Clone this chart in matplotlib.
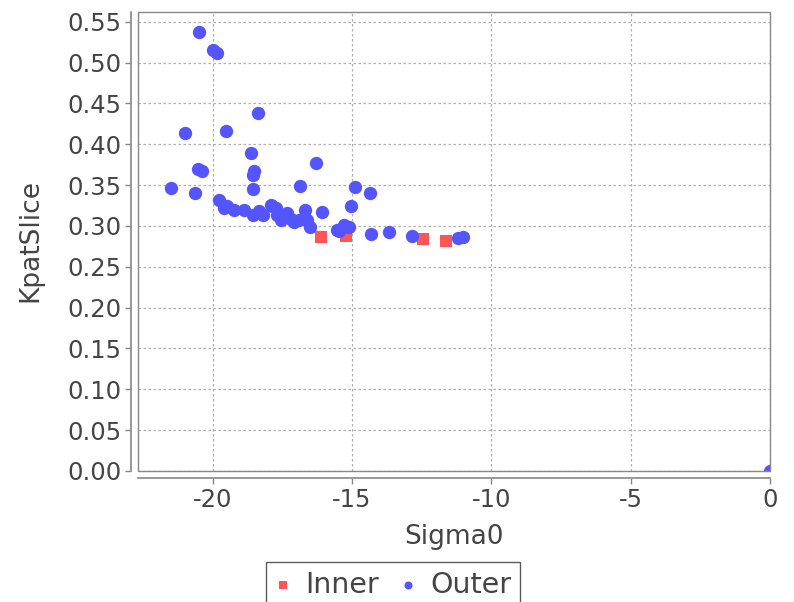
import matplotlib
matplotlib.use("Agg")
import matplotlib.pyplot as plt
from matplotlib.patches import Rectangle

# Data
inner_x = [-16.11, -15.21, -12.47, -11.63]
inner_y = [0.286, 0.288, 0.284, 0.282]

outer_x = [-21.49, -20.48, -19.99, -19.85, -18.39, -20.99, -19.53, -18.63,
           -20.54, -20.40, -18.53, -18.56, -16.28, -20.62, -18.57, -16.85,
           -14.88, -14.37, -15.03, -16.07, -15.30, -15.12, -15.48, -14.32,
           -13.69, -12.85, -11.18, -11.03,
           -19.77, -19.59, -19.47, -19.23, -18.87, -18.57, -18.34, -18.20,
           -17.92, -17.86, -17.74, -17.68, -17.56, -17.32, -17.20, -17.08,
           -16.91, -16.67, -16.61, -16.49, -15.53, 0.0]
outer_y = [0.347, 0.538, 0.515, 0.512, 0.438, 0.414, 0.416, 0.389,
           0.370, 0.367, 0.367, 0.362, 0.377, 0.340, 0.345, 0.349,
           0.348, 0.340, 0.324, 0.317, 0.301, 0.299, 0.294, 0.290,
           0.293, 0.288, 0.285, 0.287,
           0.332, 0.322, 0.324, 0.320, 0.320, 0.314, 0.318, 0.313,
           0.326, 0.324, 0.322, 0.314, 0.307, 0.316, 0.309, 0.305,
           0.307, 0.320, 0.307, 0.299, 0.295, 0.0]

x_ticks = [-20, -15, -10, -5, 0]
y_ticks = [0.00, 0.05, 0.10, 0.15, 0.20, 0.25, 0.30, 0.35, 0.40, 0.45, 0.50, 0.55]

plt.rcParams['font.family'] = ['DejaVu Sans']
fig = plt.figure(figsize=(7.94, 6.02), dpi=100)
ax = fig.add_axes([138/794, 1-471/602, (770-138)/794, (471-12)/602])

red = '#ff5555'
blue = '#5555ff'
ax.scatter(inner_x, inner_y, marker='s', s=75, color=red, label='Inner', zorder=3, linewidths=0)
ax.scatter(outer_x, outer_y, marker='o', s=92, color=blue, label='Outer', zorder=3, linewidths=0)

ax.set_xlim(-22.68, 0.0)
ax.set_ylim(0.0, 0.562)
ax.set_xticks(x_ticks)
ax.set_xticklabels([str(v) for v in x_ticks])
ax.set_yticks(y_ticks)
ax.set_yticklabels([f"{v:.2f}" for v in y_ticks])

ax.grid(True, color='#b0b0b0', linestyle=(0, (2, 2)), linewidth=0.9)
ax.set_axisbelow(True)

for s in ['top', 'right']:
    ax.spines[s].set_visible(False)
for s in ['left', 'bottom']:
    ax.spines[s].set_position(('outward', 5))
    ax.spines[s].set_color('#888888')
    ax.spines[s].set_linewidth(1.2)
ax.add_patch(Rectangle((0, 0), 1, 1, transform=ax.transAxes, fill=False,
                       edgecolor='#888888', linewidth=1.0, clip_on=False, zorder=4))

ax.tick_params(axis='both', direction='out', length=4, width=1, color='#888888',
               labelsize=17.5, labelcolor='#444444', pad=3)

ax.set_xlabel('Sigma0', fontsize=19, color='#444444')
ax.set_ylabel('KpatSlice', fontsize=19, color='#444444')
ax.xaxis.set_label_coords(0.5, -0.144)
ax.yaxis.set_label_coords(-0.171, 0.503)
ax.xaxis.label.set_va('center')
ax.yaxis.label.set_va('center')

leg = fig.legend(loc='upper center', bbox_to_anchor=(0.495, 1-562/602), ncol=2,
                 fontsize=20.5, frameon=True, fancybox=False, edgecolor='#333333',
                 handletextpad=0.5, columnspacing=0.7, borderpad=0.3,
                 borderaxespad=0, markerscale=0.6, handlelength=0.6)
leg.get_frame().set_linewidth(1.0)
for t in leg.get_texts():
    t.set_color('#444444')

fig.savefig('out.png', dpi=100)
